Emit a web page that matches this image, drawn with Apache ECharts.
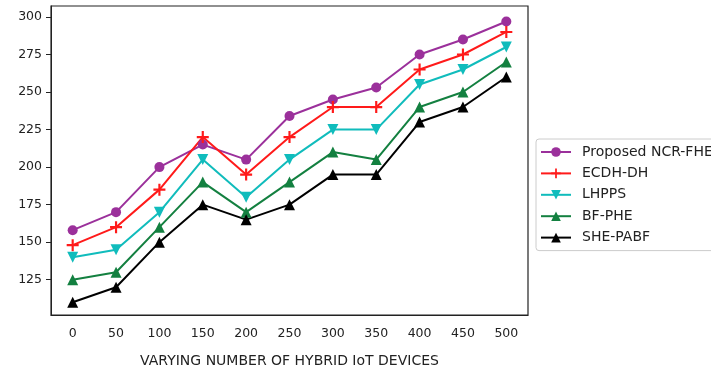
<!DOCTYPE html>
<html>
<head>
<meta charset="utf-8">
<script src="https://cdn.jsdelivr.net/npm/echarts@6/dist/echarts.min.js"></script>
<style>
  html, body { margin: 0; padding: 0; background: #fff; }
  #chart { width: 711px; height: 371px; }
</style>
</head>
<body>
<div id="chart"></div>
<script>
  // x categories (number of hybrid IoT devices)
  var devices = ['0', '50', '100', '150', '200', '250', '300', '350', '400', '450', '500'];
  var yTicks = [125, 150, 175, 200, 225, 250, 275, 300];

  var seriesNames = ['Proposed NCR-FHE', 'ECDH-DH', 'LHPPS', 'BF-PHE', 'SHE-PABF'];
  var ncrFhe  = [158, 170, 200, 215, 205, 234, 245, 253, 275, 285, 297];
  var ecdhDh  = [148, 160, 185, 220, 195, 220, 240, 240, 265, 275, 290];
  var lhpps   = [140, 145, 170, 205, 180, 205, 225, 225, 255, 265, 280];
  var bfPhe   = [125, 130, 160, 190, 170, 190, 210, 205, 240, 250, 270];
  var shePabf = [110, 120, 150, 175, 165, 175, 195, 195, 230, 240, 260];

  var plus = 'path://M4.1,0h1.8v10h-1.8z M0,4.1h10v1.8h-10z';

  function line(name, data, color, symbol, size, rotate) {
    return {
      name: name,
      type: 'line',
      data: data,
      symbol: symbol,
      symbolSize: size,
      symbolRotate: rotate || 0,
      showAllSymbol: true,
      lineStyle: { color: color, width: 2 },
      itemStyle: { color: color },
      emphasis: { disabled: true },
      animation: false
    };
  }

  var chart = echarts.init(document.getElementById('chart'));
  var option = {
    backgroundColor: '#fff',
    textStyle: { fontFamily: 'DejaVu Sans' },
    grid: {
      left: 51, top: 6, right: 183, bottom: 56,
      outerBoundsMode: 'none',
      containLabel: false,
      show: true, borderColor: '#222', borderWidth: 1.2
    },
    legend: {
      orient: 'vertical',
      left: 536, top: 139,
      itemWidth: 30, itemHeight: 12, itemGap: 7.4,
      padding: [6, 8, 6, 4],
      borderColor: '#ccc', borderWidth: 1, borderRadius: 3,
      textStyle: { fontSize: 14, color: '#222', fontFamily: 'DejaVu Sans', padding: [0, 0, 0, 6] },
      data: seriesNames
    },
    xAxis: {
      type: 'category',
      data: devices,
      boundaryGap: true,
      name: 'VARYING NUMBER OF HYBRID IoT DEVICES',
      nameLocation: 'middle',
      nameGap: 39,
      nameTextStyle: { fontSize: 14, color: '#222' },
      axisLine: { lineStyle: { color: '#222' } },
      axisTick: { alignWithLabel: true, length: 5, lineStyle: { color: '#222' } },
      axisLabel: { fontSize: 12.5, color: '#222', margin: 12 },
      splitLine: { show: false }
    },
    yAxis: {
      type: 'value',
      min: 101.5,
      max: 307.3,
      axisLine: { show: true, lineStyle: { color: '#222' } },
      axisTick: { show: true, length: 5, customValues: yTicks, lineStyle: { color: '#222' } },
      axisLabel: { fontSize: 12.5, color: '#222', margin: 9, customValues: yTicks },
      splitLine: { show: false }
    },
    series: [
      line(seriesNames[0], ncrFhe, '#9b309b', 'circle', 10),
      line(seriesNames[1], ecdhDh, '#ff1a1a', plus, 12),
      line(seriesNames[2], lhpps, '#10bcbc', 'triangle', 11, 180),
      line(seriesNames[3], bfPhe, '#138040', 'triangle', 11),
      line(seriesNames[4], shePabf, '#000000', 'triangle', 11)
    ]
  };
  chart.setOption(option);
</script>
</body>
</html>
